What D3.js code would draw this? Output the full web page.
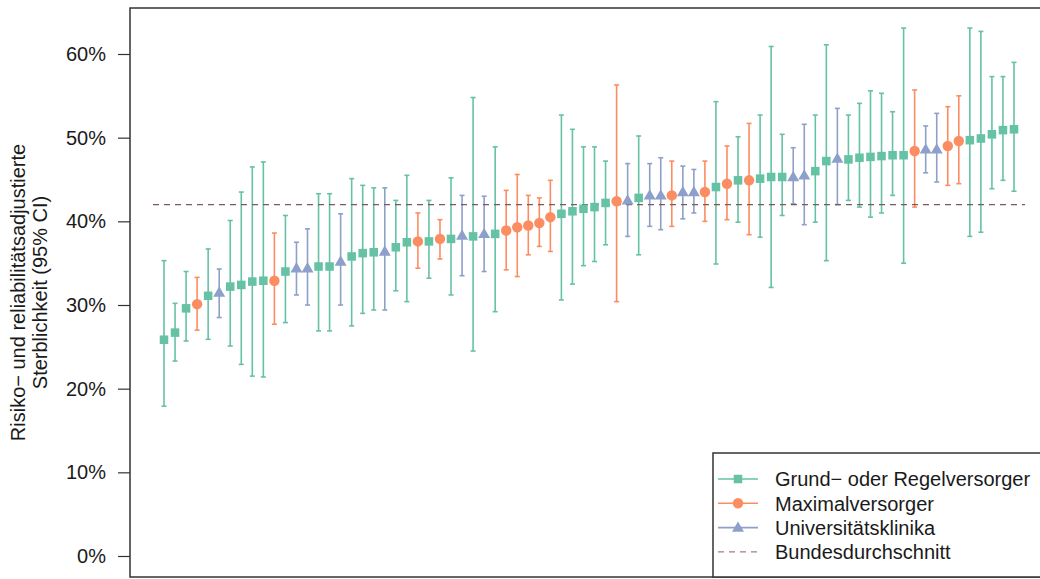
<!DOCTYPE html>
<html>
<head>
<meta charset="utf-8">
<script src="https://cdn.jsdelivr.net/npm/d3@7"></script>
<style>
  body { margin: 0; background: #fff; }
  text { font-family: "Liberation Sans", Arial, sans-serif; fill: #1a1a1a; }
</style>
</head>
<body>
<div id="chart"></div>
<script>
// hospital type per point: G = Grund- oder Regelversorger, M = Maximalversorger, U = Universitaetsklinika
let types = ["G","G","G","M","G","U","G","G","G","G","M","G","U","U","G","G","U","G","G","G",
	"U","G","G","M","G","M","G","U","G","U","G","M","M","M","M","M","G","G","G","G",
	"G","M","U","G","U","U","M","U","U","M","G","M","G","M","G","G","G","U","U","G",
	"G","U","G","G","G","G","G","G","M","U","U","M","M","G","G","G","G","G"];

// estimate (%)
let est = [25.85,26.7,29.6,30.1,31.1,31.5,32.2,32.4,32.8,32.9,32.9,34.0,34.4,34.4,34.6,34.6,35.2,35.8,36.2,36.3,
	36.4,36.9,37.5,37.6,37.6,37.9,37.9,38.3,38.2,38.5,38.5,38.9,39.3,39.5,39.8,40.5,40.9,41.2,41.5,41.7,
	42.2,42.4,42.5,42.8,43.1,43.1,43.1,43.5,43.5,43.5,44.1,44.5,44.9,44.9,45.1,45.3,45.3,45.3,45.5,46.0,
	47.2,47.5,47.4,47.6,47.7,47.8,47.9,47.9,48.4,48.6,48.6,49.0,49.6,49.7,49.9,50.4,50.9,51.0];

// lower 95% CI
let lower = [17.9,23.3,25.7,27.0,25.9,28.5,25.1,22.9,21.5,21.4,27.7,27.9,31.2,30.0,26.9,26.9,30.0,27.5,29.0,29.4,
	29.4,31.7,30.4,34.4,33.2,35.5,31.2,33.5,24.5,34.0,29.2,34.2,33.4,36.0,37.0,36.4,30.6,32.5,34.7,35.2,
	37.2,30.4,38.2,36.0,39.4,39.0,39.4,40.3,41.0,40.0,34.9,40.2,39.9,38.4,38.1,32.1,40.7,42.1,39.6,39.9,
	35.3,42.0,42.5,41.7,40.5,41.0,43.1,35.0,41.7,45.8,44.7,44.3,44.5,38.2,38.7,43.9,44.9,43.6];

// upper 95% CI
let upper = [35.3,30.2,34.0,33.3,36.7,34.3,40.1,43.5,46.5,47.1,38.6,40.7,37.5,39.1,43.3,43.3,40.9,45.1,44.3,44.0,
	44.0,42.5,45.5,41.0,42.5,40.2,45.2,43.1,54.8,43.0,48.9,43.7,45.6,43.1,42.8,44.9,52.7,51.0,48.9,48.9,
	47.2,56.3,46.9,50.2,46.9,47.6,47.2,46.6,46.2,47.2,54.3,49.0,50.1,51.7,52.7,60.9,50.4,48.8,51.6,52.7,
	61.1,53.5,52.7,54.1,55.6,55.3,53.1,63.1,55.7,51.4,52.9,53.7,55.0,63.1,62.7,57.3,57.3,59.0];

let average = 42.0;
let yTicks = [0, 10, 20, 30, 40, 50, 60];

let legendLabels = ["Grund\u2212 oder Regelversorger", "Maximalversorger", "Universitätsklinika", "Bundesdurchschnitt"];

let colors = { G: "#66c2a5", M: "#fc8d62", U: "#8da0cb" };
let avgColor = "#7a5a5a";

let svgWidth = 1040;
let svgHeight = 579;

let frame = { left: 130, top: 8, right: 1048, bottom: 577 };

let data = est.map((d, i) => ({
	idx: i + 1,
	type: types[i],
	est: d,
	lo: lower[i],
	hi: upper[i]
}));

let svg = d3.select("#chart")
	.append("svg")
	.attr("width", svgWidth)
	.attr("height", svgHeight);

// Scales (x padded like R's default 4%)
let n = data.length;
let pad = (n - 1) * 0.04;
let xScale = d3.scaleLinear()
	.domain([1 - pad, n + pad])
	.range([frame.left, frame.right]);

let yScale = d3.scaleLinear()
	.domain([0, 60])
	.range([556, 54]);

// Y axis
let leftAxis = d3.axisLeft(yScale)
	.tickValues(yTicks)
	.tickSize(12)
	.tickPadding(12)
	.tickFormat(d => d + "%");

let yAxis = svg.append("g")
	.attr("transform", `translate(${frame.left}, 0)`)
	.call(leftAxis);

yAxis.select(".domain").remove();
yAxis.selectAll("line").attr("stroke", "#333").attr("stroke-width", 1.2);
yAxis.selectAll("text")
	.attr("font-size", "20px")
	.attr("font-family", "Liberation Sans, Arial, sans-serif")
	.attr("fill", "#1a1a1a");

// Axis title
let yTitle = svg.append("g")
	.attr("transform", `translate(0, ${(frame.top + frame.bottom) / 2}) rotate(-90)`);

yTitle.append("text")
	.attr("x", 0)
	.attr("y", 25)
	.attr("text-anchor", "middle")
	.attr("font-size", "20px")
	.text("Risiko\u2212 und reliabilitätsadjustierte");

yTitle.append("text")
	.attr("x", 0)
	.attr("y", 47)
	.attr("text-anchor", "middle")
	.attr("font-size", "20px")
	.text("Sterblichkeit (95% CI)");

// Error bars
let cap = 2.5;
let bars = svg.append("g")
	.selectAll("g")
	.data(data)
	.enter()
	.append("g")
	.attr("stroke", d => colors[d.type])
	.attr("stroke-width", 1.6);

bars.append("line")
	.attr("x1", d => xScale(d.idx))
	.attr("x2", d => xScale(d.idx))
	.attr("y1", d => yScale(d.lo))
	.attr("y2", d => yScale(d.hi));

bars.append("line")
	.attr("x1", d => xScale(d.idx) - cap)
	.attr("x2", d => xScale(d.idx) + cap)
	.attr("y1", d => yScale(d.lo))
	.attr("y2", d => yScale(d.lo));

bars.append("line")
	.attr("x1", d => xScale(d.idx) - cap)
	.attr("x2", d => xScale(d.idx) + cap)
	.attr("y1", d => yScale(d.hi))
	.attr("y2", d => yScale(d.hi));

// Bundesdurchschnitt
svg.append("line")
	.attr("x1", xScale(0))
	.attr("x2", xScale(n + 1))
	.attr("y1", yScale(average))
	.attr("y2", yScale(average))
	.attr("stroke", avgColor)
	.attr("stroke-width", 1.3)
	.attr("stroke-dasharray", "6,5");

// Markers
function drawMarker(sel, type, size) {
	if (type === "G") {
		sel.append("rect")
			.attr("x", -size * 0.45)
			.attr("y", -size * 0.45)
			.attr("width", size * 0.9)
			.attr("height", size * 0.9)
			.attr("fill", colors.G);
	} else if (type === "M") {
		sel.append("circle")
			.attr("r", size * 0.55)
			.attr("fill", colors.M);
	} else {
		let h = size * 1.05;
		sel.append("path")
			.attr("d", `M0,${-h * 0.62} L${h * 0.6},${h * 0.42} L${-h * 0.6},${h * 0.42} Z`)
			.attr("fill", colors.U);
	}
}

let markerSize = 9.5;

svg.append("g")
	.selectAll("g")
	.data(data)
	.enter()
	.append("g")
	.attr("transform", d => `translate(${xScale(d.idx)}, ${yScale(d.est)})`)
	.each(function(d) { drawMarker(d3.select(this), d.type, markerSize); });

// Frame
svg.append("rect")
	.attr("x", frame.left)
	.attr("y", frame.top)
	.attr("width", frame.right - frame.left)
	.attr("height", frame.bottom - frame.top)
	.attr("fill", "none")
	.attr("stroke", "#333")
	.attr("stroke-width", 1.5);

// Legend
let legend = svg.append("g");
legend.append("rect")
	.attr("x", 713)
	.attr("y", 453)
	.attr("width", frame.right - 713)
	.attr("height", frame.bottom - 453)
	.attr("fill", "#fff")
	.attr("stroke", "#333")
	.attr("stroke-width", 1.5);

let legendTypes = ["G", "M", "U", "avg"];
legendTypes.forEach(function(t, i) {
	let ly = 479 + i * 24.3;
	let row = legend.append("g");
	if (t === "avg") {
		row.append("line")
			.attr("x1", 718).attr("x2", 758)
			.attr("y1", ly).attr("y2", ly)
			.attr("stroke", "#a08080")
			.attr("stroke-width", 1.3)
			.attr("stroke-dasharray", "6,5");
	} else {
		row.append("line")
			.attr("x1", 718).attr("x2", 758)
			.attr("y1", ly).attr("y2", ly)
			.attr("stroke", colors[t])
			.attr("stroke-width", 1.6);
		let m = row.append("g").attr("transform", `translate(738, ${ly})`);
		drawMarker(m, t, markerSize);
	}
	row.append("text")
		.attr("x", 775)
		.attr("y", ly)
		.attr("dy", "0.36em")
		.attr("font-size", "20px")
		.text(legendLabels[i]);
});
</script>
</body>
</html>
